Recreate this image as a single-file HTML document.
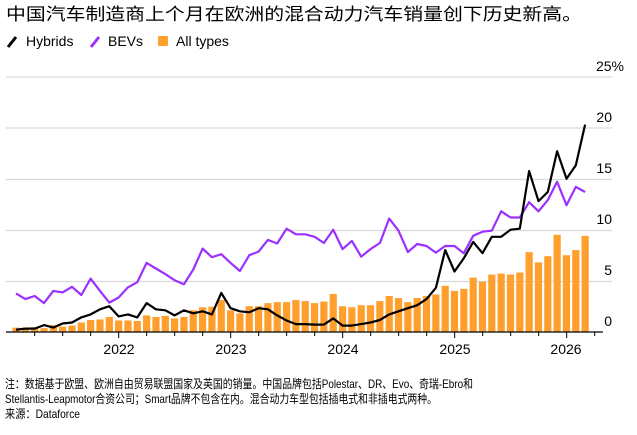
<!DOCTYPE html>
<html><head><meta charset="utf-8"><style>
body{margin:0;background:#fff;}
svg text{font-family:"Liberation Sans","Noto Sans CJK SC",sans-serif;}
</style></head><body>
<svg id="s" width="637" height="430" viewBox="0 0 637 430" xmlns="http://www.w3.org/2000/svg">
<text x="6" y="20" font-size="17" fill="#000" textLength="576" lengthAdjust="spacingAndGlyphs">中国汽车制造商上个月在欧洲的混合动力汽车销量创下历史新高。</text>
<line x1="8" y1="47" x2="16" y2="37" stroke="#000" stroke-width="3"/>
<text x="26" y="46" font-size="14">Hybrids</text>
<line x1="91" y1="47" x2="99" y2="37" stroke="#9b30ff" stroke-width="3"/>
<text x="108" y="46" font-size="14">BEVs</text>
<rect x="158" y="36" width="10" height="10" rx="1.5" fill="#ff9f2e"/>
<text x="176" y="46" font-size="14">All types</text>
<g stroke="#d9d9d9" stroke-width="1.3">
<line x1="6" y1="77" x2="612" y2="77"/><line x1="6" y1="128" x2="612" y2="128"/><line x1="6" y1="179.5" x2="612" y2="179.5"/><line x1="6" y1="230.5" x2="612" y2="230.5"/><line x1="6" y1="281.5" x2="612" y2="281.5"/>
</g>
<g font-size="14" text-anchor="end" fill="#000">
<text x="624" y="71">25%</text><text x="612" y="122">20</text><text x="612" y="173">15</text><text x="612" y="224">10</text><text x="612" y="275">5</text><text x="612" y="326">0</text>
</g>
<g id="bars" fill="#ff9f2e"></g>
<line x1="6" y1="332" x2="603" y2="332" stroke="#000" stroke-width="1.3"/>
<g id="ticks" stroke="#000" stroke-width="1"></g>
<g font-size="14" text-anchor="middle">
<text x="119" y="354">2022</text><text x="231" y="354">2023</text><text x="343" y="354">2024</text><text x="455" y="354">2025</text><text x="566" y="354">2026</text>
</g>
<polyline id="bev" fill="none" stroke="#9b30ff" stroke-width="2.2" stroke-linejoin="round"/>
<polyline id="hyb" fill="none" stroke="#000" stroke-width="2.2" stroke-linejoin="round"/>
<g font-size="12" fill="#000">
<text x="5" y="388" textLength="468" lengthAdjust="spacingAndGlyphs">注：数据基于欧盟、欧洲自由贸易联盟国家及英国的销量。中国品牌包括Polestar、DR、Evo、奇瑞-Ebro和</text>
<text x="5" y="403" textLength="432" lengthAdjust="spacingAndGlyphs">Stellantis-Leapmotor合资公司；Smart品牌不包含在内。混合动力车型包括插电式和非插电式两种。</text>
<text x="5" y="418" textLength="75" lengthAdjust="spacingAndGlyphs">来源：Dataforce</text>
</g>
</svg>
<script>
var H=[0.2,0.3,0.3,0.65,0.4,0.8,0.9,1.4,1.7,2.2,2.5,1.5,1.7,1.4,2.8,2.2,2.1,1.6,2.1,1.8,2.0,1.7,3.8,2.3,2.0,1.9,2.3,2.2,1.6,1.1,0.75,0.75,0.7,0.7,1.3,0.6,0.6,0.75,0.9,1.15,1.7,2.0,2.3,2.6,3.2,4.3,8.0,5.9,7.2,8.8,7.7,9.3,9.3,10.0,10.1,15.75,12.8,13.7,17.7,15.0,16.3,20.3];
var B=[3.75,3.2,3.5,2.8,4.0,3.85,4.4,3.6,5.2,4.0,2.85,3.35,4.35,4.85,6.75,6.2,5.65,5.05,4.65,6.1,8.15,7.3,7.6,6.75,5.95,7.5,7.85,9.0,8.65,10.1,9.55,9.55,9.3,8.7,10.0,8.1,8.9,7.35,8.1,8.7,11.1,9.9,7.8,8.6,8.4,7.75,8.4,8.4,7.7,9.4,9.8,9.9,11.8,11.2,11.2,12.7,11.8,12.9,14.7,12.4,14.2,13.7];
var A=[0.4,0.45,0.35,0.65,0.5,0.6,0.9,1.15,1.2,1.45,1.1,1.1,1.05,1.6,1.45,1.55,1.3,1.45,2.1,2.4,2.45,3.1,2.1,1.8,2.5,2.5,2.8,2.9,2.9,3.1,3.0,2.8,2.95,3.7,2.5,2.4,2.6,2.6,3.0,3.5,3.3,2.9,3.3,3.5,3.65,4.5,4.0,4.2,5.3,4.9,5.6,5.7,5.6,5.8,7.8,6.8,7.4,9.5,7.5,8.0,9.4];
// note: A aligned to Feb21..Mar26 (pad if short)
while(A.length<62)A.unshift(0.4);
function X(i){return 16+i*9.33;}function Y(v){return 331.7-v*10.2;}
var ns="http://www.w3.org/2000/svg",bars=document.getElementById('bars'),tk=document.getElementById('ticks');
for(var i=0;i<62;i++){var r=document.createElementNS(ns,'rect');r.setAttribute('x',X(i)-3.6);r.setAttribute('width',7.2);r.setAttribute('y',Y(A[i]));r.setAttribute('height',331.7-Y(A[i]));bars.appendChild(r);}
for(var i=0;i<=20;i++){var x=X(2)+i*28;if(x>600)break;var l=document.createElementNS(ns,'line');l.setAttribute('x1',x);l.setAttribute('x2',x);l.setAttribute('y1',332);l.setAttribute('y2',i%4==3?338:336);tk.appendChild(l);}
function pts(a){return a.map(function(v,i){return X(i).toFixed(1)+','+Y(v).toFixed(1)}).join(' ');}
document.getElementById('hyb').setAttribute('points',pts(H));
document.getElementById('bev').setAttribute('points',pts(B));
</script>
</body></html>
